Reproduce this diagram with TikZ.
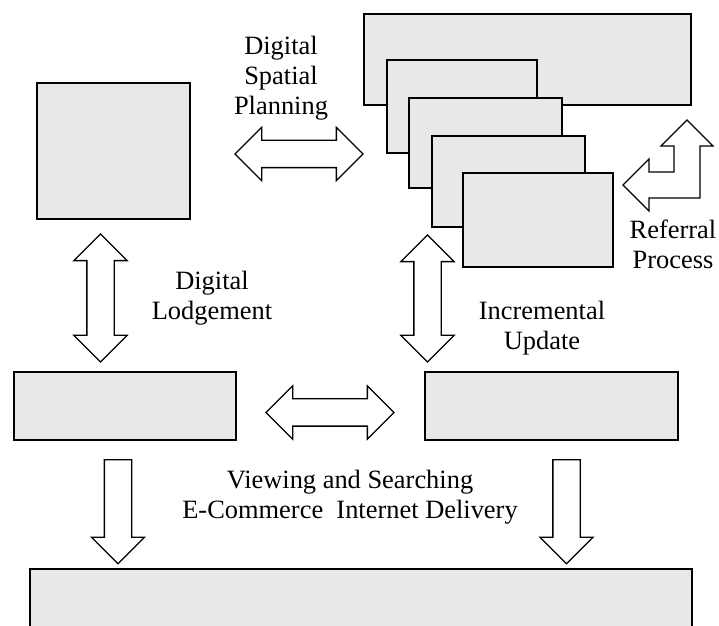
\documentclass[tikz,border=0pt]{standalone}
\usepackage{fontspec}
\setmainfont{Liberation Serif}
\usetikzlibrary{shapes.arrows}
\definecolor{boxgray}{RGB}{232,232,232}

\begin{document}
\begin{tikzpicture}[line join=miter,
  grey box/.style={rectangle,draw,fill=boxgray,line width=1.4pt,inner sep=0pt},
  two way/.style={double arrow,draw,fill=white,line width=0.9pt,
    inner xsep=0pt,inner ysep=0.325cm,minimum width=0pt,
    double arrow head extend=0.325cm,double arrow tip angle=90},
  one way/.style={single arrow,draw,fill=white,line width=0.9pt,
    inner xsep=0pt,inner ysep=0.325cm,minimum width=0pt,
    single arrow head extend=0.325cm,single arrow tip angle=90,
    minimum height=2.6cm,rotate=-90},
  caption text/.style={font=\fontsize{18.8}{21.3}\selectfont,align=center,inner sep=0pt}]

  \useasboundingbox (0,0) rectangle (17.975,15.65);
  \clip (0,0) rectangle (17.975,15.65);

  % boxes
  \node[grey box,minimum width=3.825cm,minimum height=3.4cm] (local) at (2.8375,11.875) {};
  \node[grey box,minimum width=8.175cm,minimum height=2.275cm] (plan) at (13.1875,14.1625) {};
  \node[grey box,minimum width=3.75cm,minimum height=2.325cm] (plan1) at (11.55,12.9875) {};
  \node[grey box,minimum width=3.825cm,minimum height=2.25cm] (plan2) at (12.1375,12.075) {};
  \node[grey box,minimum width=3.825cm,minimum height=2.275cm] (plan3) at (12.7125,11.1125) {};
  \node[grey box,minimum width=3.75cm,minimum height=2.35cm] (plan4) at (13.45,10.15) {};
  \node[grey box,minimum width=5.55cm,minimum height=1.7cm] (lodge) at (3.125,5.5) {};
  \node[grey box,minimum width=6.325cm,minimum height=1.7cm] (update) at (13.7875,5.5) {};
  \node[grey box,minimum width=16.55cm,minimum height=2.425cm] (delivery) at (9.025,0.2125) {};

  % block arrows
  \node[two way,minimum height=3.2cm] (spatial) at (7.475,11.8) {};
  \node[two way,minimum height=3.2cm,rotate=90] (lodgement) at (2.5125,8.2) {};
  \node[two way,minimum height=3.175cm,rotate=90] (incremental) at (10.6875,8.1875) {};
  \node[two way,minimum height=3.2cm] (exchange) at (8.25,5.3375) {};
  \node[one way] (viewleft) at (2.95,3.025) {};
  \node[one way] (viewright) at (14.1625,3.025) {};
  % referral, bent arrow
  \draw[line width=0.9pt,fill=white] (15.575,11.025) -- (16.225,11.675) -- (16.225,11.35)
    -- (16.85,11.35) -- (16.85,12.0) -- (16.525,12.0) -- (17.175,12.65) -- (17.825,12.0)
    -- (17.5,12.0) -- (17.5,10.7) -- (16.225,10.7) -- (16.225,10.375) -- cycle;

  % captions
  \node[caption text] (spatialtxt) at (7.025,13.7) {Digital\\Spatial\\Planning};
  \node[caption text] (lodgetxt) at (5.3,8.2) {Digital\\Lodgement};
  \node[caption text] (updatetxt) at (13.55,7.4375) {Incremental\\Update};
  \node[caption text] (referraltxt) at (16.825,9.55) {Referral\\Process};
  \node[caption text] (viewtxt) at (8.75,3.225) {Viewing and Searching\\E-Commerce\ \ Internet Delivery};
\end{tikzpicture}
\end{document}
